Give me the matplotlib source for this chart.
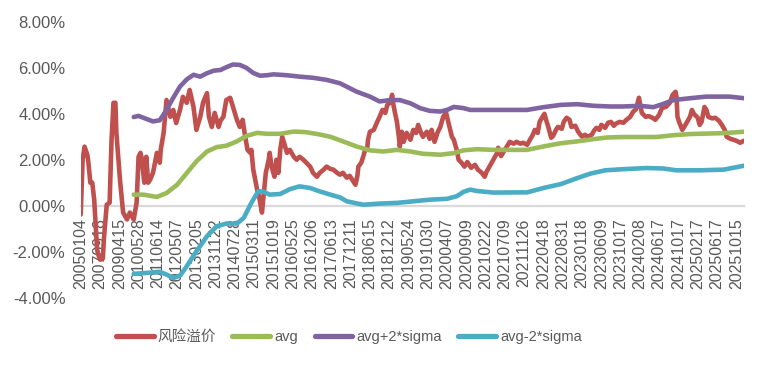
import matplotlib
matplotlib.use("Agg")
import matplotlib.pyplot as plt

plt.rcParams['font.family'] = ['Liberation Sans', 'Noto Sans CJK SC', 'DejaVu Sans']

# Category labels (one every 20 trading-day categories)
date_labels = ["20050104", "20070918", "20090415", "20100528", "20110614", "20120507",
               "20130205", "20131122", "20140728", "20150311", "20151019", "20160525",
               "20161206", "20170613", "20171211", "20180615", "20181212", "20190524",
               "20191030", "20200407", "20200909", "20210222", "20210709", "20211126",
               "20220418", "20220831", "20230118", "20230609", "20231017", "20240208",
               "20240617", "20241017", "20250217", "20250617", "20251015"]
n_categories = 689
label_step = 20

# 风险溢价 (risk premium, %) at category index
risk_idx = [0, 2, 4, 7, 8, 10, 12, 14, 17, 18, 20, 23, 24, 27, 30, 32, 34, 36, 37, 41,
            44, 48, 51, 55, 58, 60, 62, 63, 66, 68, 70, 72, 75, 77, 79, 82, 83, 86, 89, 93,
            96, 99, 103, 106, 110, 113, 117, 120, 124, 127, 131, 133, 136, 139, 143, 145, 148, 151, 155, 158,
            162, 165, 168, 170, 173, 176, 177, 179, 181, 183, 185, 188, 190, 192, 195, 196, 198, 201, 203, 205,
            207, 209, 212, 214, 217, 221, 224, 227, 231, 234, 238, 241, 245, 248, 252, 255, 259, 262, 266, 269,
            272, 276, 279, 283, 285, 287, 288, 291, 293, 295, 297, 298, 300, 304, 307, 310, 313, 316, 318, 321,
            323, 324, 326, 328, 330, 331, 333, 335, 338, 342, 345, 348, 350, 353, 355, 359, 362, 364, 367, 370,
            373, 376, 379, 381, 385, 387, 390, 392, 395, 398, 401, 405, 409, 412, 416, 419, 421, 424, 428, 432,
            433, 436, 438, 442, 445, 449, 452, 456, 459, 463, 466, 469, 471, 474, 476, 479, 481, 483, 485, 488,
            490, 493, 495, 499, 501, 504, 507, 509, 513, 516, 520, 523, 526, 530, 533, 535, 538, 540, 544, 547,
            550, 553, 555, 559, 563, 566, 570, 573, 576, 579, 580, 582, 586, 589, 593, 596, 600, 603, 607, 611,
            614, 617, 618, 619, 621, 624, 626, 629, 632, 634, 636, 640, 642, 644, 647, 649, 651, 655, 658, 662,
            665, 668, 670, 674, 677, 680, 684, 688]
risk_val = [-0.39, 2.0, 2.57, 2.2, 1.87, 1.0, 1.0, 0.26, -1.9, -2.1, -2.35, -2.3, -1.48, 0.04, 0.13, 2.87, 4.48, 4.48, 3.17, 1.0,
            -0.3, -0.6, -0.3, -0.6, 0.13, 2.13, 2.3, 2.13, 1.0, 2.13, 1.0, 1.13, 1.43, 1.87, 2.3, 1.87, 2.43, 3.17, 4.6, 3.87,
            4.17, 3.6, 4.17, 4.74, 4.48, 5.04, 4.3, 3.3, 3.87, 4.5, 4.9, 3.87, 3.43, 4.04, 3.43, 3.7, 3.87, 4.6, 4.7, 4.3,
            3.74, 3.43, 3.74, 3.17, 2.43, 2.3, 2.43, 1.57, 1.13, 0.7, 0.4, -0.3, 0.57, 1.43, 2.0, 2.3, 1.7, 1.26, 2.0, 1.43,
            2.43, 3.0, 2.57, 2.3, 2.43, 2.13, 2.0, 2.13, 2.0, 1.87, 1.7, 1.43, 1.26, 1.43, 1.57, 1.7, 1.6, 1.57, 1.43, 1.35,
            1.43, 1.22, 1.3, 1.04, 0.91, 1.3, 1.7, 1.87, 2.13, 2.43, 2.43, 2.87, 3.22, 3.3, 3.6, 3.87, 4.17, 4.04, 4.39, 4.48,
            4.83, 4.48, 4.04, 3.65, 3.0, 2.57, 3.22, 2.78, 3.17, 2.87, 3.3, 3.17, 3.52, 3.17, 3.0, 3.22, 2.91, 3.3, 2.78, 3.17,
            3.43, 3.87, 4.04, 3.7, 3.0, 2.87, 2.43, 2.0, 1.87, 1.7, 1.9, 1.65, 1.78, 1.57, 1.43, 1.26, 1.48, 1.7, 2.0, 2.3,
            2.52, 2.16, 2.3, 2.57, 2.78, 2.7, 2.78, 2.7, 2.74, 2.65, 2.87, 3.09, 3.3, 3.17, 3.65, 3.87, 4.0, 3.7, 3.43, 2.96,
            3.04, 3.3, 3.43, 3.35, 3.65, 3.83, 3.74, 3.43, 3.48, 3.22, 3.0, 3.09, 3.0, 3.09, 3.3, 3.39, 3.3, 3.52, 3.39, 3.61,
            3.65, 3.48, 3.57, 3.65, 3.61, 3.74, 3.87, 4.09, 4.2, 4.7, 4.48, 4.04, 3.87, 3.9, 3.83, 3.74, 3.96, 4.26, 4.3, 4.48,
            4.83, 4.96, 4.74, 3.87, 3.61, 3.3, 3.43, 3.65, 3.87, 4.17, 4.0, 3.83, 3.52, 3.65, 4.3, 4.17, 3.87, 3.8, 3.83, 3.7,
            3.52, 3.3, 3.0, 2.91, 2.87, 2.83, 2.74, 2.83]

# avg (%)
avg_idx = [55, 65, 79, 89, 100, 110, 120, 131, 141, 151, 162, 172, 183, 193, 207, 221, 234, 248, 259, 272,
           286, 300, 314, 328, 342, 355, 373, 387, 397, 411, 428, 463, 480, 498, 515, 532, 546, 563, 597, 615,
           632, 667, 688]
avg_val = [0.48, 0.48, 0.38, 0.55, 0.91, 1.42, 1.93, 2.36, 2.55, 2.61, 2.8, 3.04, 3.17, 3.13, 3.13, 3.23, 3.2, 3.1, 3.0, 2.8,
           2.58, 2.41, 2.36, 2.43, 2.36, 2.26, 2.22, 2.29, 2.41, 2.46, 2.43, 2.43, 2.58, 2.72, 2.8, 2.9, 2.97, 2.99, 2.99, 3.07,
           3.12, 3.16, 3.22]

# avg+2*sigma (%)
upper_idx = [55, 60, 68, 75, 82, 89, 96, 103, 110, 117, 124, 131, 138, 145, 151, 158, 165, 172, 179, 186,
             193, 200, 214, 227, 241, 255, 269, 286, 300, 310, 321, 331, 342, 352, 362, 373, 380, 387, 397, 404,
             428, 463, 480, 498, 515, 532, 549, 563, 580, 594, 604, 615, 632, 649, 673, 688]
upper_val = [3.86, 3.91, 3.78, 3.67, 3.72, 4.17, 4.7, 5.19, 5.5, 5.7, 5.62, 5.77, 5.88, 5.91, 6.03, 6.15, 6.13, 6.0, 5.78, 5.66,
             5.68, 5.72, 5.68, 5.62, 5.57, 5.48, 5.33, 4.97, 4.75, 4.54, 4.6, 4.6, 4.46, 4.25, 4.13, 4.1, 4.17, 4.3, 4.25, 4.17,
             4.17, 4.17, 4.29, 4.39, 4.42, 4.35, 4.32, 4.32, 4.35, 4.29, 4.43, 4.6, 4.68, 4.75, 4.75, 4.68]

# avg-2*sigma (%)
lower_idx = [55, 68, 82, 89, 96, 103, 110, 120, 131, 141, 151, 162, 169, 177, 184, 189, 196, 207, 217, 227,
             238, 248, 259, 269, 276, 293, 310, 328, 345, 362, 380, 390, 397, 404, 411, 428, 463, 480, 498, 515,
             529, 544, 563, 587, 604, 618, 642, 667, 688]
lower_val = [-2.97, -2.93, -2.88, -3.0, -3.15, -3.05, -2.64, -1.99, -1.33, -0.9, -0.78, -0.78, -0.54, 0.12, 0.62, 0.62, 0.48, 0.51, 0.72, 0.84,
             0.77, 0.62, 0.48, 0.36, 0.19, 0.04, 0.09, 0.12, 0.19, 0.26, 0.3, 0.41, 0.6, 0.7, 0.64, 0.57, 0.58, 0.77, 0.94, 1.2,
             1.4, 1.54, 1.59, 1.64, 1.62, 1.54, 1.54, 1.57, 1.74]

series_names = ["风险溢价", "avg", "avg+2*sigma", "avg-2*sigma"]
colors = ["#C0504D", "#9BBB59", "#8064A2", "#4BACC6"]
text_color = "#595959"

W, H = 767, 365
fig = plt.figure(figsize=(W / 100, H / 100), dpi=100)
left_px, right_px, top_px, bottom_px = 80.7, 744, 22, 297.5
ax = fig.add_axes([left_px / W, 1 - bottom_px / H, (right_px - left_px) / W, (bottom_px - top_px) / H])

data = [(risk_idx, risk_val), (avg_idx, avg_val), (upper_idx, upper_val), (lower_idx, lower_val)]
for (xi, yv), name, c in zip(data, series_names, colors):
    ax.plot(xi, yv, color=c, lw=3.3, label=name, zorder=3,
            solid_capstyle='round', solid_joinstyle='round')

# spine first (set_position resets tick formatting)
for s in ['top', 'right', 'left']:
    ax.spines[s].set_visible(False)
ax.spines['bottom'].set_position(('data', 0))
ax.spines['bottom'].set_color('#D9D9D9')
ax.spines['bottom'].set_linewidth(1.6)
ax.spines['bottom'].set_zorder(1)
ax.patch.set_alpha(0)

ax.set_xlim(0, n_categories - 1)
ax.set_ylim(-4, 8)
yt = [-4, -2, 0, 2, 4, 6, 8]
ax.set_yticks(yt)
ax.set_yticklabels([f"{v:.2f}%" for v in yt], fontsize=12, color=text_color)
ax.set_xticks(list(range(0, n_categories, label_step))[:len(date_labels)])
ax.set_xticklabels(date_labels, rotation=90, fontsize=11.5, color=text_color)
ax.tick_params(axis='y', length=0, pad=11)
ax.tick_params(axis='x', length=0, pad=9)

leg = fig.legend(loc='center', bbox_to_anchor=(349 / W, 1 - 337 / H), ncol=4, frameon=False,
                 fontsize=10.5, handlelength=2.6, handletextpad=0.3, columnspacing=1.1,
                 labelcolor=text_color)
for line in leg.get_lines():
    line.set_linewidth(3.8)

fig.savefig("out.png", dpi=100)
